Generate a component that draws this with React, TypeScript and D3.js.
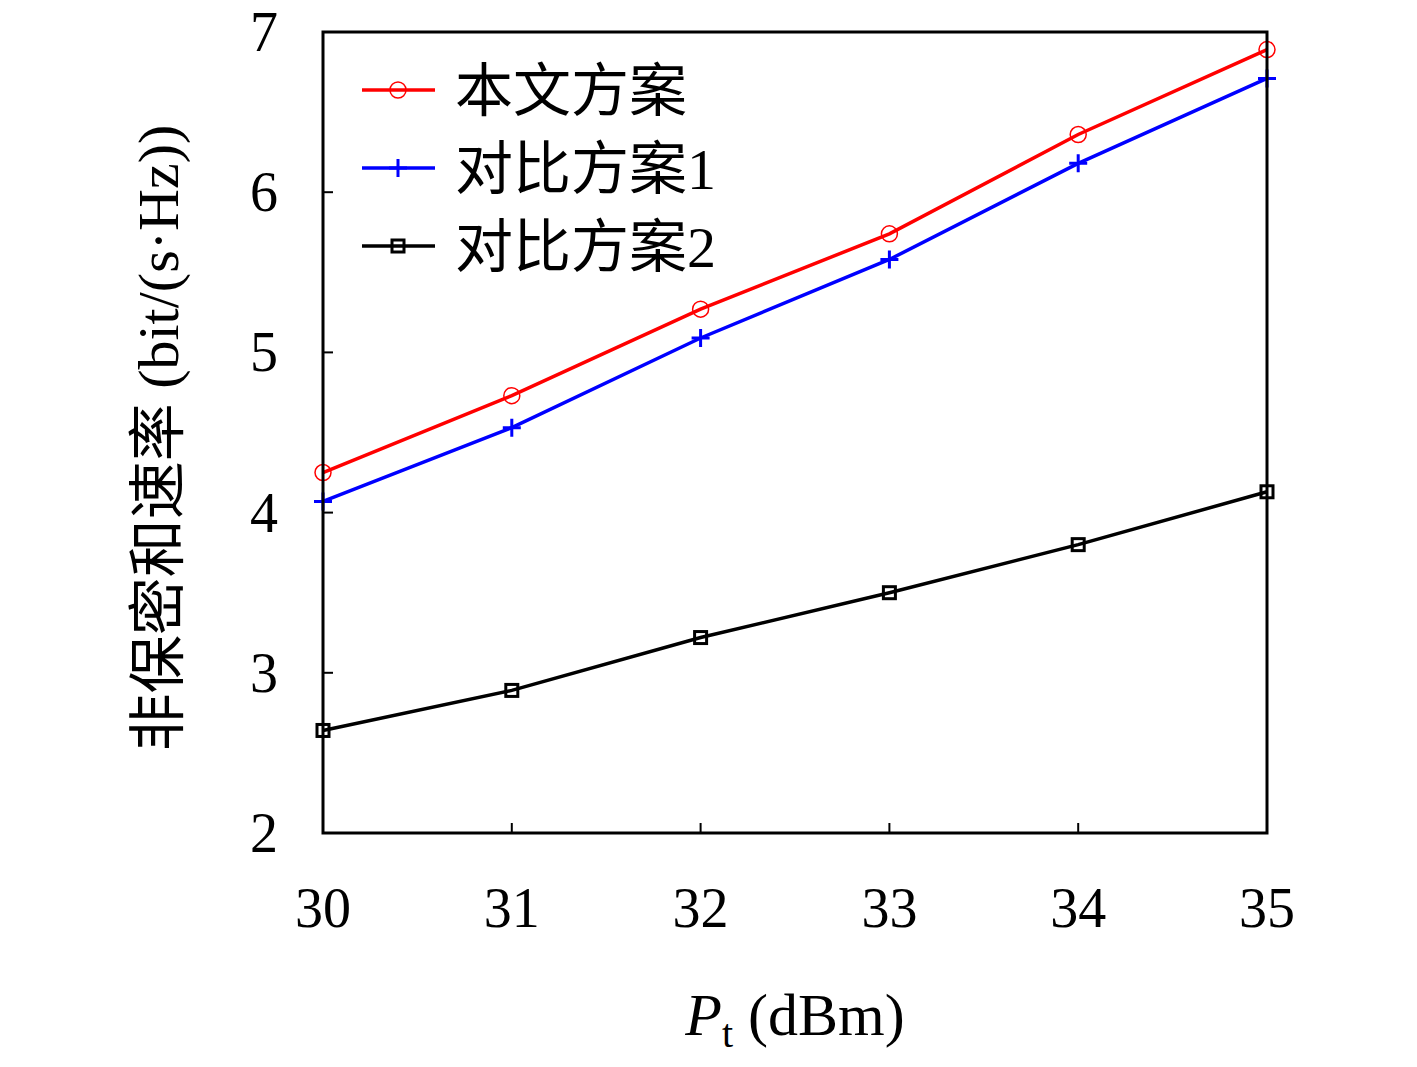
import * as d3 from "d3";

const xValues = [30, 31, 32, 33, 34, 35];
const proposed = [4.25, 4.73, 5.27, 5.74, 6.36, 6.89];
const baseline1 = [4.07, 4.53, 5.09, 5.58, 6.18, 6.71];
const baseline2 = [2.64, 2.89, 3.22, 3.5, 3.8, 4.13];
const yTicks = [2, 3, 4, 5, 6, 7];
const seriesNames = ["本文方案", "对比方案1", "对比方案2"];
const seriesColors = ["#ff0000", "#0000ff", "#000000"];

const W = 1417, H = 1067;
const m = { left: 323, right: 150, top: 32, bottom: 234 };
const font = "'Liberation Serif', 'DejaVu Serif', 'Noto Sans CJK SC', serif";

export default function App() {
  const x = d3.scaleLinear().domain([30, 35]).range([m.left, W - m.right]);
  const y = d3.scaleLinear().domain([2, 7]).range([H - m.bottom, m.top]);
  const line = d3.line<number>().x((_, i) => x(xValues[i])).y(d => y(d));
  const all = [proposed, baseline1, baseline2];

  const marker = (k: number, cx: number, cy: number, key: string) => {
    const c = seriesColors[k];
    if (k === 0) return <circle key={key} cx={cx} cy={cy} r={8} fill="none" stroke={c} strokeWidth={1.5} />;
    if (k === 1)
      return (
        <path key={key} d={`M${cx - 9},${cy}H${cx + 9}M${cx},${cy - 9}V${cy + 9}`} stroke={c} strokeWidth={3} />
      );
    return <rect key={key} x={cx - 6} y={cy - 6} width={12} height={12} fill="none" stroke={c} strokeWidth={3} />;
  };

  return (
    <svg width={W} height={H} style={{ position: "absolute", left: 0, top: 0, background: "#fff" }} fontFamily={font}>
      {xValues.map(v => (
        <line key={"xt" + v} x1={x(v)} x2={x(v)} y1={y(2)} y2={y(2) - 10} stroke="#000" strokeWidth={2} />
      ))}
      {yTicks.map(v => (
        <line key={"yt" + v} x1={m.left} x2={m.left + 10} y1={y(v)} y2={y(v)} stroke="#000" strokeWidth={2} />
      ))}
      {xValues.map(v => (
        <text key={"xl" + v} x={x(v)} y={y(2) + 94} textAnchor="middle" fontSize={56}>{v}</text>
      ))}
      {yTicks.map(v => (
        <text key={"yl" + v} x={m.left - 45} y={y(v) + 19} textAnchor="end" fontSize={56}>{v}</text>
      ))}
      {all.map((s, k) => (
        <g key={"s" + k}>
          <path d={line(s)!} fill="none" stroke={seriesColors[k]} strokeWidth={3.5} />
          {s.map((v, i) => marker(k, x(xValues[i]), y(v), `m${k}-${i}`))}
        </g>
      ))}
      <rect x={m.left} y={m.top} width={W - m.right - m.left} height={H - m.bottom - m.top} fill="none" stroke="#000" strokeWidth={3} />
      {seriesNames.map((n, k) => {
        const ly = 90 + k * 78;
        return (
          <g key={"lg" + k}>
            <line x1={362} x2={435} y1={ly} y2={ly} stroke={seriesColors[k]} strokeWidth={3.5} />
            {marker(k, 398, ly, "lm" + k)}
            <text x={455} y={ly + 21} fontSize={58}>{n}</text>
          </g>
        );
      })}
      <text transform={`translate(178,438) rotate(-90)`} textAnchor="middle" fontSize={58}>
        非保密和速率 (bit/(s·Hz))
      </text>
      <text x={795} y={1035} textAnchor="middle" fontSize={60}>
        <tspan fontStyle="italic">P</tspan>
        <tspan fontSize={40} dy={12}>t</tspan>
        <tspan dy={-12}> (dBm)</tspan>
      </text>
    </svg>
  );
}
